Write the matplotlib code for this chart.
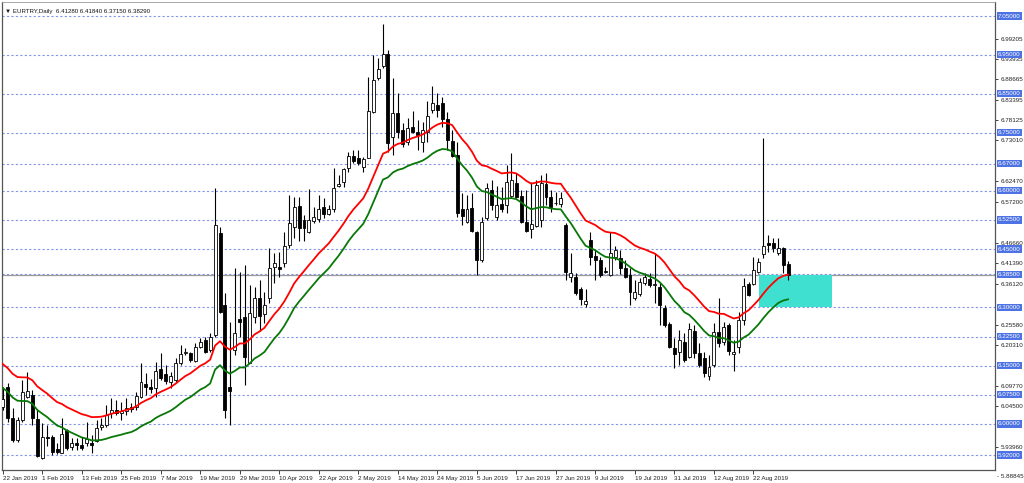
import numpy as np
import pandas as pd
import matplotlib.pyplot as plt
import matplotlib.transforms as mtransforms

# EURTRY daily candles, 22 Jan 2019 onwards (one bar per weekday)
opens = [6.044, 6.096, 6.015, 5.959, 6.010, 6.070, 6.074, 6.012, 5.912, 5.966,
         5.966, 5.935, 5.926, 5.984, 5.940, 5.950, 5.946, 5.950, 5.952, 5.957,
         5.992, 5.997, 6.029, 6.036, 6.028, 6.032, 6.043, 6.044, 6.070, 6.102,
         6.094, 6.092, 6.141, 6.129, 6.109, 6.113, 6.156, 6.182, 6.182, 6.163,
         6.199, 6.216, 6.190, 6.229, 6.491, 6.306, 6.094, 6.190, 6.269, 6.274,
         6.158, 6.274, 6.323, 6.282, 6.323, 6.405, 6.403, 6.414, 6.461, 6.508,
         6.561, 6.525, 6.493, 6.523, 6.528, 6.559, 6.540, 6.553, 6.613, 6.624,
         6.658, 6.690, 6.684, 6.662, 6.685, 6.804, 6.890, 6.922, 6.951, 6.739,
         6.800, 6.757, 6.726, 6.764, 6.752, 6.726, 6.752, 6.808, 6.821, 6.827,
         6.784, 6.729, 6.692, 6.552, 6.521, 6.555, 6.495, 6.422, 6.529, 6.602,
         6.533, 6.566, 6.564, 6.587, 6.621, 6.587, 6.521, 6.501, 6.509, 6.525,
         6.618, 6.585, 6.569, 6.565, 6.512, 6.377, 6.379, 6.347, 6.309, 6.474,
         6.432, 6.422, 6.394, 6.383, 6.430, 6.426, 6.401, 6.383, 6.323, 6.334,
         6.364, 6.372, 6.358, 6.353, 6.299, 6.256, 6.196, 6.186, 6.212, 6.173,
         6.239, 6.182, 6.169, 6.124, 6.152, 6.237, 6.212, 6.255, 6.179, 6.199,
         6.268, 6.359, 6.359, 6.392, 6.437, 6.465, 6.465, 6.439, 6.452, 6.4128]
highs = [6.096, 6.105, 6.041, 6.017, 6.113, 6.134, 6.087, 6.036, 6.002, 5.997,
         5.971, 5.950, 6.015, 5.988, 5.963, 5.963, 5.967, 6.006, 5.971, 6.010,
         6.015, 6.049, 6.066, 6.062, 6.057, 6.066, 6.054, 6.083, 6.156, 6.130,
         6.115, 6.160, 6.182, 6.152, 6.134, 6.169, 6.203, 6.195, 6.186, 6.208,
         6.220, 6.225, 6.233, 6.607, 6.508, 6.336, 6.263, 6.401, 6.392, 6.409,
         6.358, 6.353, 6.371, 6.340, 6.452, 6.439, 6.443, 6.495, 6.589, 6.585,
         6.585, 6.538, 6.605, 6.559, 6.589, 6.581, 6.564, 6.658, 6.641, 6.658,
         6.701, 6.705, 6.705, 6.688, 6.894, 6.950, 6.941, 7.029, 6.963, 6.890,
         6.851, 6.774, 6.787, 6.806, 6.782, 6.778, 6.830, 6.870, 6.851, 6.842,
         6.804, 6.757, 6.726, 6.594, 6.589, 6.594, 6.497, 6.533, 6.619, 6.628,
         6.612, 6.611, 6.667, 6.697, 6.645, 6.602, 6.602, 6.624, 6.628, 6.641,
         6.645, 6.602, 6.598, 6.598, 6.516, 6.439, 6.388, 6.353, 6.347, 6.495,
         6.448, 6.430, 6.405, 6.495, 6.458, 6.448, 6.422, 6.401, 6.371, 6.375,
         6.388, 6.389, 6.439, 6.362, 6.306, 6.263, 6.220, 6.242, 6.233, 6.259,
         6.255, 6.208, 6.186, 6.178, 6.259, 6.323, 6.263, 6.259, 6.216, 6.289,
         6.375, 6.366, 6.430, 6.426, 6.735, 6.486, 6.478, 6.479, 6.456, 6.4184]
lows = [6.036, 6.006, 5.954, 5.954, 6.006, 6.066, 5.997, 5.915, 5.910, 5.942,
        5.920, 5.922, 5.924, 5.933, 5.933, 5.933, 5.933, 5.942, 5.924, 5.954,
        5.984, 5.992, 6.015, 6.023, 6.010, 6.023, 6.031, 6.036, 6.066, 6.074,
        6.079, 6.070, 6.113, 6.104, 6.092, 6.109, 6.151, 6.177, 6.160, 6.160,
        6.195, 6.182, 6.186, 6.225, 6.285, 6.015, 5.997, 6.177, 6.225, 6.100,
        6.156, 6.259, 6.238, 6.259, 6.311, 6.362, 6.379, 6.405, 6.452, 6.478,
        6.471, 6.471, 6.491, 6.516, 6.521, 6.529, 6.538, 6.546, 6.611, 6.611,
        6.649, 6.671, 6.667, 6.649, 6.684, 6.800, 6.885, 6.917, 6.701, 6.692,
        6.735, 6.714, 6.718, 6.750, 6.705, 6.701, 6.726, 6.801, 6.791, 6.765,
        6.705, 6.688, 6.533, 6.512, 6.516, 6.495, 6.383, 6.418, 6.525, 6.551,
        6.525, 6.546, 6.542, 6.581, 6.581, 6.518, 6.495, 6.478, 6.506, 6.506,
        6.564, 6.546, 6.564, 6.559, 6.371, 6.366, 6.332, 6.306, 6.302, 6.409,
        6.371, 6.379, 6.388, 6.381, 6.422, 6.386, 6.375, 6.306, 6.319, 6.329,
        6.358, 6.353, 6.311, 6.255, 6.250, 6.195, 6.143, 6.152, 6.160, 6.169,
        6.169, 6.147, 6.122, 6.113, 6.147, 6.199, 6.203, 6.177, 6.135, 6.182,
        6.255, 6.330, 6.358, 6.388, 6.428, 6.443, 6.443, 6.435, 6.388, 6.3715]
closes = [6.063, 6.015, 5.959, 6.010, 6.083, 6.086, 6.015, 5.918, 5.966, 5.963,
          5.929, 5.927, 5.973, 5.937, 5.950, 5.947, 5.937, 5.961, 5.946, 5.990,
          5.997, 6.023, 6.036, 6.027, 6.033, 6.041, 6.038, 6.072, 6.107, 6.096,
          6.089, 6.136, 6.117, 6.111, 6.124, 6.156, 6.180, 6.185, 6.164, 6.199,
          6.212, 6.186, 6.225, 6.512, 6.289, 6.036, 6.086, 6.233, 6.263, 6.173,
          6.286, 6.323, 6.278, 6.306, 6.402, 6.414, 6.399, 6.458, 6.516, 6.558,
          6.505, 6.505, 6.525, 6.532, 6.553, 6.540, 6.552, 6.607, 6.617, 6.655,
          6.690, 6.677, 6.671, 6.682, 6.806, 6.885, 6.914, 6.951, 6.722, 6.800,
          6.752, 6.721, 6.761, 6.752, 6.744, 6.757, 6.793, 6.827, 6.808, 6.784,
          6.731, 6.690, 6.542, 6.535, 6.552, 6.497, 6.422, 6.521, 6.607, 6.564,
          6.564, 6.552, 6.624, 6.628, 6.585, 6.521, 6.497, 6.515, 6.615, 6.619,
          6.585, 6.559, 6.568, 6.581, 6.392, 6.388, 6.336, 6.321, 6.317, 6.429,
          6.422, 6.383, 6.391, 6.439, 6.448, 6.401, 6.377, 6.340, 6.340, 6.366,
          6.379, 6.358, 6.360, 6.306, 6.255, 6.199, 6.179, 6.216, 6.165, 6.244,
          6.182, 6.152, 6.130, 6.147, 6.237, 6.208, 6.250, 6.188, 6.186, 6.268,
          6.356, 6.332, 6.396, 6.416, 6.459, 6.461, 6.452, 6.452, 6.409, 6.3829]

# envelope indicator (EMA of close, +/- deviation); seed = EMA value left of first bar
ma_period = 20
env_dev = 0.005
ma_seed = 6.130

# horizontal levels drawn on the chart (blue dotted, labelled on the price scale)
levels = [7.05, 6.95, 6.85, 6.75, 6.67, 6.60, 6.525, 6.45, 6.385, 6.30, 6.225, 6.15, 6.075, 6.00, 5.92]
# price scale labels that are not covered by the level tags
scale_labels = [6.99205, 6.93935, 6.88665, 6.83395, 6.78125, 6.73010, 6.62470, 6.57200,
                6.46660, 6.41390, 6.36120, 6.25580, 6.20310, 6.09770, 6.04500, 5.93960]
scale_bottom = 5.88845
bid = 6.38290
zone_top, zone_bottom = 6.383, 6.300
zone_x0, zone_x1 = 153.2, 168.0

dates = pd.bdate_range("2019-01-22", periods=len(closes))
date_step = 8

FONT = ["Liberation Sans", "DejaVu Sans"]
plt.rcParams['font.family'] = FONT

fig = plt.figure(figsize=(10.24, 4.83), dpi=100)
ax = fig.add_axes([2 / 1024, 1 - 470 / 483, 993 / 1024, 468 / 483])

x = np.arange(len(closes))
o = np.array(opens); h = np.array(highs); l = np.array(lows); c = np.array(closes)

# levels
for lv in levels:
    ax.axhline(lv, color="#8296ea", lw=0.8, ls=(0, (2, 2)), zorder=1)
ax.axhline(bid, color="#9a9a9a", lw=0.9, zorder=1)

# target zone
ax.fill_between([zone_x0, zone_x1], zone_bottom, zone_top, color="#40e0d0", lw=0, zorder=2)

# candles
up = c >= o
ax.vlines(x, l, h, color="#000000", lw=0.8, zorder=3)
ax.bar(x[up], c[up] - o[up], bottom=o[up], width=0.6, color="white",
       edgecolor="black", linewidth=0.6, zorder=4)
ax.bar(x[~up], o[~up] - c[~up], bottom=c[~up], width=0.6, color="black",
       edgecolor="black", linewidth=0.6, zorder=4)

# envelopes
ema = pd.Series([ma_seed] + closes).ewm(span=ma_period, adjust=False).mean().iloc[1:].to_numpy()
ax.plot(x, ema * (1 + env_dev), color="#ff0000", lw=1.3, zorder=5)
ax.plot(x, ema * (1 - env_dev), color="#087808", lw=1.3, zorder=5)

ax.set_xlim(-0.14, 200.9)
ax.set_ylim(5.8814, 7.0861)

# price scale
ax.yaxis.tick_right()
ax.set_yticks(scale_labels)
ax.set_yticklabels(["%.5f" % v for v in scale_labels])
ax.tick_params(axis="y", direction="out", length=2.5, width=0.6, pad=1.5,
               labelsize=4.5, colors="#222222")
trans = mtransforms.blended_transform_factory(ax.transAxes, ax.transData)
for lv in levels:
    ax.text(1.0028, lv, "%.5f" % lv, transform=trans, fontsize=4.5, color="white",
            va="center", ha="left", clip_on=False, zorder=10,
            bbox=dict(boxstyle="square,pad=0.18", fc="#4d72e3", ec="none"))
ax.annotate("- %.5f" % scale_bottom, xy=(1.0, 0.0), xycoords="axes fraction",
            xytext=(1.5, -5), textcoords="offset points", fontsize=4.5,
            color="#222222", va="center", ha="left", annotation_clip=False)

# time scale
ticks = x[::date_step]
ax.set_xticks(ticks)
ax.set_xticklabels(["%d %s" % (d.day, d.strftime("%b %Y")) for d in dates[::date_step]])
ax.tick_params(axis="x", direction="out", length=3, width=0.6, pad=1.5,
               labelsize=4.5, colors="#222222")
for t in ax.get_xticklabels():
    t.set_ha("left")

for side in ["left", "bottom", "right"]:
    ax.spines[side].set_color("#555555")
    ax.spines[side].set_linewidth(0.9)
ax.spines["top"].set_color("#999999")
ax.spines["top"].set_linewidth(0.6)

ax.text(0.003, 0.985, "\u25bc EURTRY,Daily  6.41280 6.41840 6.37150 6.38290",
        transform=ax.transAxes, fontsize=4.4, color="#111111", va="top", ha="left")

fig.savefig("out.png", dpi=100, facecolor="white")
